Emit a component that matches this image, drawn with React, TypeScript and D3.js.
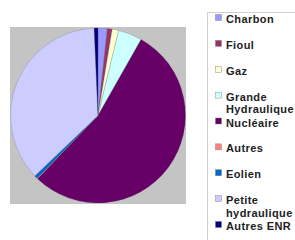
import { useMemo } from "react"
import * as d3 from "d3"

const categories = [
  "Charbon",
  "Fioul",
  "Gaz",
  "Grande Hydraulique",
  "Nucléaire",
  "Autres",
  "Eolien",
  "Petite hydraulique",
  "Autres ENR",
]
// share of production, %
const values = [1.7, 0.9, 1.2, 4.4, 53.9, 0.1, 0.6, 36.4, 0.7]
const colors = [
  "#9999ff",
  "#993366",
  "#ffffcc",
  "#ccffff",
  "#660066",
  "#ff8080",
  "#0066cc",
  "#ccccff",
  "#000080",
]

const wrapLabel = (label: string) => {
  if (label.length <= 12) return [label]
  const i = label.indexOf(" ")
  return [label.slice(0, i), label.slice(i + 1)]
}

export default function App() {
  const width = 295
  const height = 240
  const plot = { x: 10, y: 27, w: 176, h: 177 }
  const cx = 98
  const cy = 115.5
  const r = 87.5

  const arcs = useMemo(() => {
    const pie = d3.pie<number>().sort(null).value((d) => d)
    return pie(values)
  }, [])
  const arc = d3.arc<d3.PieArcDatum<number>>().innerRadius(0).outerRadius(r)

  const legendY = d3
    .scalePoint<string>()
    .domain(categories)
    .range([23, 230])

  return (
    <svg
      width={width}
      height={height}
      style={{ position: "fixed", left: 0, top: 0, background: "#fff" }}
    >
      <rect x={plot.x} y={plot.y} width={plot.w} height={plot.h} fill="#c4c4c4" />
      <g transform={`translate(${cx},${cy})`}>
        {arcs.map((a, i) => (
          <path
            key={categories[i]}
            d={arc(a) || ""}
            fill={colors[i]}
            stroke="#5a5a6a"
            strokeWidth={0.4}
            strokeOpacity={0.6}
          />
        ))}
      </g>

      {/* legend */}
      <rect x={207.5} y={12.5} width={100} height={240} fill="#fff" stroke="#cfcfcf" />
      <g fontFamily="'Liberation Sans', Arial, sans-serif" fontWeight="bold" fontSize={11} fill="#222">
        {categories.map((c, i) => {
          const y = legendY(c) || 0
          const lines = wrapLabel(c)
          return (
            <g key={c}>
              <rect
                x={215.5}
                y={y - 8.5}
                width={6}
                height={6}
                fill={colors[i]}
                stroke="#777"
                strokeWidth={0.4}
              />
              <text x={226} y={y} letterSpacing={0.4}>
                {lines.map((l, k) => (
                  <tspan key={k} x={226} dy={k === 0 ? 0 : 12.5}>
                    {l}
                  </tspan>
                ))}
              </text>
            </g>
          )
        })}
      </g>
    </svg>
  )
}
